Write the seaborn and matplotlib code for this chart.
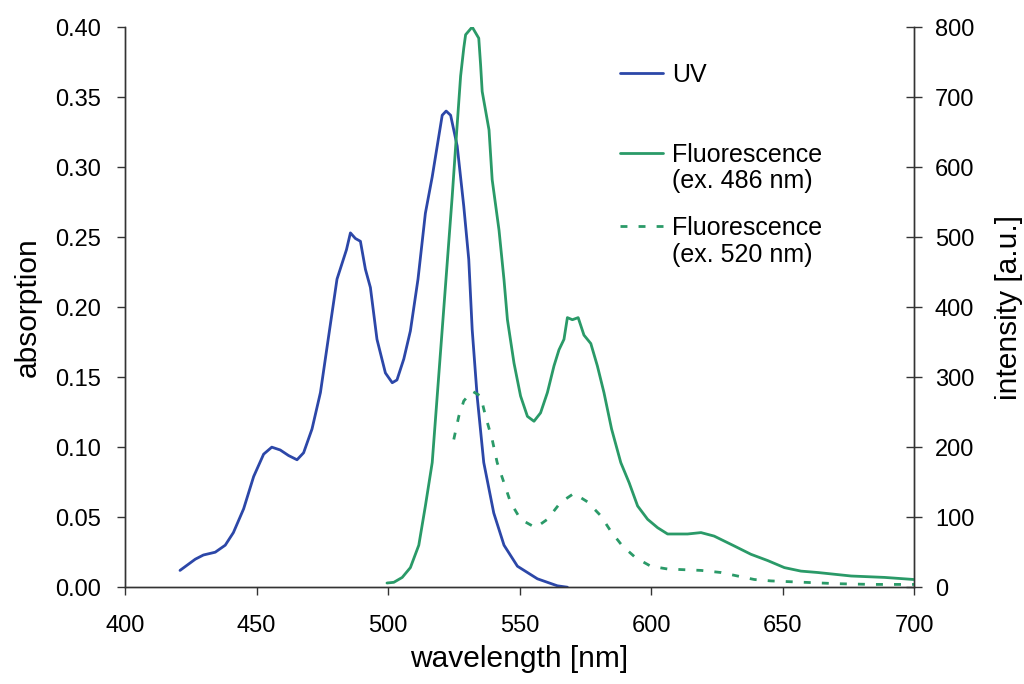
import pandas as pd
import seaborn as sns
import matplotlib.pyplot as plt

# UV absorption spectrum
uv_nm = [420.9, 426.7, 429.8, 434.3, 438.1, 441.2, 445.1, 448.9, 452.7, 455.8,
         459.0, 462.2, 465.4, 467.9, 471.1, 474.3, 477.4, 480.6, 484.2, 485.7,
         487.6, 489.5, 491.4, 493.3, 495.8, 499.0, 501.6, 503.4, 506.0, 508.5,
         511.4, 514.2, 516.8, 518.7, 520.6, 522.1, 523.8, 526.3, 528.8, 530.7,
         532.0, 533.9, 536.4, 540.2, 544.1, 549.2, 556.8, 564.4, 568.2]
uv_abs = [0.012, 0.020, 0.023, 0.025, 0.030, 0.039, 0.056, 0.079, 0.095, 0.100,
          0.098, 0.094, 0.091, 0.096, 0.113, 0.139, 0.179, 0.220, 0.241, 0.253,
          0.249, 0.247, 0.227, 0.214, 0.177, 0.153, 0.146, 0.148, 0.163, 0.183,
          0.220, 0.267, 0.293, 0.315, 0.337, 0.340, 0.337, 0.315, 0.272, 0.234,
          0.184, 0.136, 0.089, 0.053, 0.030, 0.015, 0.006, 0.001, 0.0]

# fluorescence, excitation at 486 nm
fl486_nm = [499.6, 502.2, 505.4, 508.5, 511.7, 514.2, 516.8, 518.7, 520.6, 522.5,
            524.4, 525.7, 527.6, 528.8, 529.5, 532.0, 534.5, 535.2, 535.8, 538.4,
            539.6, 542.2, 544.1, 545.4, 547.9, 550.4, 553.0, 555.5, 558.0, 560.6,
            563.1, 565.0, 566.9, 568.2, 570.1, 572.3, 574.5, 577.1, 579.6, 582.1,
            585.0, 588.5, 591.7, 594.9, 598.7, 602.5, 606.3, 613.9, 619.0, 624.0,
            631.6, 638.0, 644.4, 650.7, 657.0, 663.4, 676.1, 688.8, 700.0]
fl486_int = [6, 7, 14, 28, 60, 116, 178, 273, 368, 463,
             558, 629, 730, 770, 789, 800, 784, 746, 708, 653,
             582, 510, 439, 382, 320, 273, 244, 237, 249, 278,
             316, 339, 354, 385, 382, 385, 360, 348, 316, 278,
             226, 178, 149, 116, 97, 85, 76, 76, 78, 73,
             59, 47, 38, 28, 23, 21, 16, 14, 11]

# fluorescence, excitation at 520 nm
fl520_nm = [525.0, 526.9, 528.8, 532.0, 535.2, 537.1, 539.6, 541.5, 544.1, 546.6,
            550.4, 556.1, 560.6, 565.6, 570.7, 575.8, 580.9, 584.7, 589.1, 594.2,
            599.9, 606.3, 619.0, 626.6, 632.9, 639.3, 645.6, 652.0, 658.3, 671.0,
            683.7, 700.0]
fl520_int = [211, 244, 266, 280, 273, 244, 211, 178, 149, 121,
             97, 85, 97, 121, 134, 122, 102, 80, 59, 42,
             30, 26, 24, 21, 16, 11, 9, 8, 7, 5,
             4, 4]

blue = "#2c47a8"
green = "#2a9a68"

sns.set_style("ticks")
plt.rcParams["font.family"] = ["Liberation Sans", "DejaVu Sans"]
plt.rcParams["text.color"] = "black"
plt.rcParams["axes.labelcolor"] = "black"

uv = pd.DataFrame({"nm": uv_nm, "val": uv_abs})
f1 = pd.DataFrame({"nm": fl486_nm, "val": fl486_int})
f2 = pd.DataFrame({"nm": fl520_nm, "val": fl520_int})

fig = plt.figure(figsize=(10.24, 6.84), dpi=100)
ax = fig.add_axes([0.1221, 0.1415, 0.7705, 0.8190])
ax2 = ax.twinx()

sns.lineplot(data=uv, x="nm", y="val", ax=ax, color=blue, lw=2.0, label="UV", legend=False)
sns.lineplot(data=f1, x="nm", y="val", ax=ax2, color=green, lw=2.0,
             label="Fluorescence\n(ex. 486 nm)", legend=False)
sns.lineplot(data=f2, x="nm", y="val", ax=ax2, color=green, lw=2.0,
             label="Fluorescence\n(ex. 520 nm)", legend=False)
ax2.lines[-1].set_dashes((2.5, 4.0))

ax.set_xlim(400, 700)
ax.set_ylim(0, 0.40)
ax2.set_ylim(0, 800)
ax.set_xticks(range(400, 701, 50))
ax.set_yticks([i * 0.05 for i in range(9)])
ax.set_yticklabels([f"{i * 0.05:.2f}" for i in range(9)])
ax2.set_yticks(range(0, 801, 100))

ax.set_xlabel("wavelength [nm]", fontsize=21.5, labelpad=6)
ax.set_ylabel("absorption", fontsize=21.5, labelpad=10)
ax2.set_ylabel("intensity [a.u.]", fontsize=21.5, labelpad=15)

ax.tick_params(axis="x", labelsize=17, direction="out", length=6, width=1,
               color="#333333", labelcolor="black", pad=14)
ax.tick_params(axis="y", labelsize=17, direction="out", length=6, width=1,
               color="#333333", labelcolor="black", pad=11)
ax2.tick_params(axis="y", labelsize=17, direction="inout", length=12, width=1,
                color="#333333", labelcolor="black", pad=9)
for a in (ax, ax2):
    a.spines["top"].set_visible(False)
    for s in a.spines.values():
        s.set_color("#333333")
        s.set_linewidth(1.0)
ax2.spines["right"].set_visible(True)

# two legends: UV on its own, fluorescence entries below it
leg_kw = dict(frameon=False, fontsize=18, handlelength=1.75, handletextpad=0.35,
              handleheight=1.0, borderpad=0, borderaxespad=0)
leg1 = ax.legend(loc="upper left", bbox_to_anchor=(0.627, 0.936), **leg_kw)
leg2 = ax2.legend(loc="upper left", bbox_to_anchor=(0.627, 0.793), labelspacing=0.92, **leg_kw)
for leg in (leg1, leg2):
    for t in leg.get_texts():
        t.set_linespacing(1.12)
    # align each handle with the first text line
    for col in leg._legend_handle_box.get_children():
        for row in col.get_children():
            row.align = "top"

fig.savefig("out.png", dpi=100)
